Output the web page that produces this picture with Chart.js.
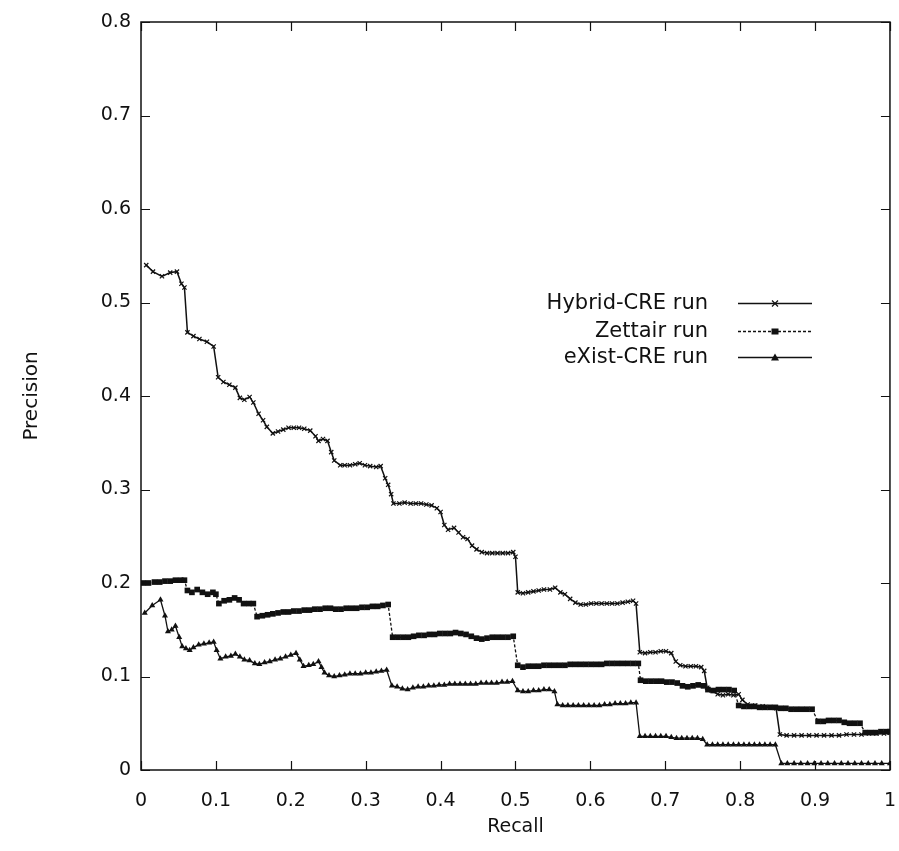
<!DOCTYPE html>
<html>
<head>
<meta charset="utf-8">
<script src="https://cdn.jsdelivr.net/npm/chart.js@4.4.1/dist/chart.umd.min.js"></script>
<style>
html,body{margin:0;padding:0;background:#fff;}
#c{display:block;}
</style>
</head>
<body>
<canvas id="c" width="899" height="851"></canvas>
<script>
// ---- data ----
const seriesNames = ['Hybrid-CRE run', 'Zettair run', 'eXist-CRE run'];
const xTickLabels = ['0','0.1','0.2','0.3','0.4','0.5','0.6','0.7','0.8','0.9','1'];
const yTickLabels = ['0','0.1','0.2','0.3','0.4','0.5','0.6','0.7','0.8'];

const hybridRecall = [0.007,0.016,0.028,0.039,0.048,0.054,0.058,0.062,0.070,0.078,0.088,0.097,0.103,0.110,0.118,0.126,0.132,0.138,0.145,0.150,0.157,0.163,0.168,0.176,0.183,0.190,0.197,0.204,0.211,0.218,0.226,0.233,0.237,0.243,0.249,0.254,0.258,0.266,0.272,0.279,0.286,0.292,0.299,0.306,0.314,0.320,0.326,0.330,0.334,0.337,0.345,0.352,0.360,0.367,0.374,0.381,0.388,0.395,0.400,0.405,0.410,0.418,0.424,0.430,0.436,0.442,0.448,0.455,0.462,0.469,0.476,0.483,0.490,0.497,0.500,0.503,0.510,0.517,0.524,0.531,0.538,0.546,0.553,0.560,0.566,0.573,0.580,0.587,0.594,0.601,0.608,0.615,0.622,0.629,0.636,0.643,0.650,0.657,0.661,0.666,0.673,0.680,0.687,0.694,0.701,0.708,0.714,0.720,0.727,0.734,0.741,0.748,0.752,0.756,0.762,0.770,0.777,0.784,0.791,0.798,0.803,0.810,0.820,0.830,0.840,0.848,0.853,0.862,0.872,0.882,0.892,0.902,0.912,0.922,0.932,0.942,0.952,0.962,0.972,0.982,0.992,1.000];
const hybridPrecision = [0.540,0.533,0.528,0.532,0.533,0.520,0.516,0.468,0.464,0.461,0.458,0.453,0.420,0.415,0.412,0.409,0.398,0.396,0.399,0.393,0.381,0.374,0.367,0.360,0.362,0.364,0.366,0.366,0.366,0.365,0.363,0.357,0.352,0.354,0.352,0.340,0.331,0.326,0.326,0.326,0.327,0.328,0.326,0.325,0.324,0.325,0.312,0.305,0.295,0.285,0.285,0.286,0.285,0.285,0.285,0.284,0.283,0.280,0.276,0.262,0.257,0.259,0.254,0.249,0.247,0.240,0.236,0.233,0.232,0.232,0.232,0.232,0.232,0.233,0.228,0.190,0.189,0.190,0.191,0.192,0.193,0.193,0.195,0.190,0.188,0.183,0.179,0.177,0.177,0.178,0.178,0.178,0.178,0.178,0.178,0.179,0.180,0.181,0.178,0.126,0.125,0.126,0.126,0.127,0.127,0.125,0.116,0.112,0.111,0.111,0.111,0.110,0.106,0.088,0.085,0.081,0.080,0.081,0.080,0.081,0.075,0.070,0.069,0.068,0.067,0.066,0.038,0.037,0.037,0.037,0.037,0.037,0.037,0.037,0.037,0.038,0.038,0.038,0.039,0.039,0.039,0.040];

const zettairRecall = [0.003,0.010,0.018,0.025,0.032,0.039,0.046,0.053,0.058,0.062,0.068,0.075,0.082,0.089,0.096,0.100,0.104,0.111,0.118,0.125,0.131,0.137,0.144,0.150,0.155,0.162,0.169,0.176,0.183,0.190,0.197,0.204,0.211,0.218,0.225,0.232,0.239,0.246,0.253,0.260,0.267,0.274,0.281,0.288,0.295,0.302,0.309,0.316,0.323,0.330,0.336,0.343,0.350,0.357,0.364,0.371,0.378,0.385,0.392,0.399,0.406,0.413,0.420,0.427,0.434,0.441,0.448,0.455,0.462,0.469,0.476,0.483,0.490,0.497,0.503,0.510,0.517,0.524,0.531,0.538,0.545,0.552,0.559,0.566,0.573,0.580,0.587,0.594,0.601,0.608,0.615,0.622,0.629,0.636,0.643,0.650,0.657,0.664,0.667,0.674,0.681,0.688,0.695,0.702,0.709,0.716,0.723,0.730,0.737,0.744,0.751,0.757,0.764,0.771,0.778,0.785,0.792,0.798,0.805,0.812,0.819,0.826,0.833,0.840,0.847,0.854,0.861,0.868,0.875,0.882,0.889,0.896,0.904,0.911,0.918,0.925,0.932,0.939,0.946,0.953,0.960,0.967,0.974,0.981,0.988,0.995,1.000];
const zettairPrecision = [0.200,0.200,0.201,0.201,0.202,0.202,0.203,0.203,0.203,0.192,0.190,0.193,0.190,0.188,0.190,0.188,0.178,0.181,0.182,0.184,0.182,0.178,0.178,0.178,0.164,0.165,0.166,0.167,0.168,0.169,0.169,0.170,0.170,0.171,0.171,0.172,0.172,0.173,0.173,0.172,0.172,0.173,0.173,0.173,0.174,0.174,0.175,0.175,0.176,0.177,0.142,0.142,0.142,0.142,0.143,0.144,0.144,0.145,0.145,0.146,0.146,0.146,0.147,0.146,0.145,0.143,0.141,0.140,0.141,0.142,0.142,0.142,0.142,0.143,0.112,0.110,0.111,0.111,0.111,0.112,0.112,0.112,0.112,0.112,0.113,0.113,0.113,0.113,0.113,0.113,0.113,0.114,0.114,0.114,0.114,0.114,0.114,0.114,0.096,0.095,0.095,0.095,0.095,0.094,0.094,0.093,0.090,0.089,0.090,0.091,0.090,0.086,0.085,0.086,0.086,0.086,0.085,0.069,0.068,0.068,0.068,0.067,0.067,0.067,0.067,0.066,0.066,0.065,0.065,0.065,0.065,0.065,0.052,0.052,0.053,0.053,0.053,0.051,0.050,0.050,0.050,0.040,0.040,0.040,0.041,0.041,0.041];

const existRecall = [0.005,0.015,0.026,0.032,0.036,0.041,0.046,0.051,0.055,0.060,0.065,0.070,0.077,0.084,0.091,0.097,0.101,0.106,0.113,0.120,0.126,0.132,0.138,0.145,0.152,0.158,0.165,0.172,0.179,0.186,0.193,0.200,0.207,0.212,0.217,0.224,0.230,0.237,0.241,0.245,0.251,0.258,0.265,0.272,0.279,0.286,0.293,0.300,0.307,0.314,0.321,0.328,0.335,0.342,0.349,0.356,0.363,0.370,0.377,0.384,0.391,0.398,0.405,0.412,0.419,0.426,0.433,0.440,0.447,0.454,0.461,0.468,0.475,0.482,0.489,0.496,0.503,0.510,0.517,0.524,0.531,0.538,0.545,0.552,0.556,0.563,0.570,0.577,0.584,0.591,0.598,0.605,0.612,0.619,0.626,0.633,0.640,0.647,0.654,0.661,0.666,0.673,0.680,0.687,0.694,0.701,0.708,0.715,0.722,0.729,0.736,0.743,0.750,0.756,0.763,0.770,0.777,0.784,0.791,0.798,0.805,0.812,0.819,0.826,0.833,0.840,0.847,0.855,0.863,0.872,0.881,0.890,0.899,0.908,0.917,0.926,0.935,0.944,0.953,0.962,0.971,0.980,0.989,1.000];
const existPrecision = [0.168,0.176,0.182,0.165,0.148,0.150,0.154,0.142,0.132,0.130,0.128,0.131,0.134,0.135,0.136,0.137,0.128,0.119,0.121,0.122,0.124,0.121,0.118,0.117,0.114,0.113,0.115,0.116,0.118,0.119,0.121,0.123,0.125,0.118,0.111,0.112,0.113,0.116,0.110,0.104,0.101,0.100,0.101,0.102,0.103,0.103,0.103,0.104,0.104,0.105,0.106,0.107,0.090,0.089,0.087,0.086,0.088,0.089,0.089,0.090,0.090,0.091,0.091,0.092,0.092,0.092,0.092,0.092,0.092,0.093,0.093,0.093,0.093,0.094,0.094,0.095,0.085,0.084,0.084,0.085,0.085,0.086,0.086,0.084,0.070,0.069,0.069,0.069,0.069,0.069,0.069,0.069,0.069,0.070,0.070,0.071,0.071,0.071,0.072,0.072,0.036,0.036,0.036,0.036,0.036,0.036,0.035,0.034,0.034,0.034,0.034,0.034,0.033,0.027,0.027,0.027,0.027,0.027,0.027,0.027,0.027,0.027,0.027,0.027,0.027,0.027,0.027,0.007,0.007,0.007,0.007,0.007,0.007,0.007,0.007,0.007,0.007,0.007,0.007,0.007,0.007,0.007,0.007,0.007];

function pts(xs, ys){ return xs.map((x,i)=>({x:x, y:ys[i]})); }

const FONT = "'DejaVu Sans', 'Liberation Sans', sans-serif";
const INK = '#111';

const frameTicks = {
  id: 'frameTicks',
  afterDatasetsDraw(chart){
    const {ctx, chartArea:a, scales:{x, y}} = chart;
    ctx.save();
    ctx.strokeStyle = INK;
    ctx.lineWidth = 1.5;
    ctx.strokeRect(a.left, a.top, a.right - a.left, a.bottom - a.top);
    const L = 9;
    ctx.beginPath();
    x.ticks.forEach(t => {
      const px = Math.round(x.getPixelForValue(t.value)) + 0.5;
      ctx.moveTo(px, a.bottom); ctx.lineTo(px, a.bottom - L);
      ctx.moveTo(px, a.top); ctx.lineTo(px, a.top + L);
    });
    y.ticks.forEach(t => {
      const py = Math.round(y.getPixelForValue(t.value)) + 0.5;
      ctx.moveTo(a.left, py); ctx.lineTo(a.left + L, py);
      ctx.moveTo(a.right, py); ctx.lineTo(a.right - L, py);
    });
    ctx.lineWidth = 1.2;
    ctx.stroke();
    ctx.restore();
  }
};

function marker(ctx, style, x, y){
  ctx.beginPath();
  if (style === 'crossRot'){
    const r = 3;
    ctx.moveTo(x-r,y-r); ctx.lineTo(x+r,y+r);
    ctx.moveTo(x-r,y+r); ctx.lineTo(x+r,y-r);
    ctx.stroke();
  } else if (style === 'rect'){
    ctx.fillRect(x-3.5,y-3,7,6);
  } else if (style === 'triangle'){
    ctx.moveTo(x, y-4); ctx.lineTo(x+4, y+3); ctx.lineTo(x-4, y+3); ctx.closePath();
    ctx.fill();
  }
}

const customLegend = {
  id: 'customLegend',
  afterDraw(chart){
    const {ctx} = chart;
    const rows = [303, 331, 357];
    const textRight = 708, l0 = 738, l1 = 812;
    ctx.save();
    ctx.font = '21px ' + FONT;
    ctx.textAlign = 'right';
    ctx.textBaseline = 'middle';
    chart.data.datasets.forEach((ds, i) => {
      const yy = rows[i];
      ctx.fillStyle = INK;
      ctx.fillText(ds.label, textRight, yy + 1);
      ctx.strokeStyle = INK;
      ctx.lineWidth = ds.borderWidth;
      ctx.setLineDash(ds.borderDash || []);
      ctx.beginPath(); ctx.moveTo(l0, yy + 0.5); ctx.lineTo(l1, yy + 0.5); ctx.stroke();
      ctx.setLineDash([]);
      ctx.lineWidth = 1.2;
      marker(ctx, ds.pointStyle, (l0 + l1) / 2, yy + 0.5);
    });
    ctx.restore();
  }
};

new Chart(document.getElementById('c'), {
  type: 'line',
  data: {
    datasets: [
      { label: seriesNames[0], data: pts(hybridRecall, hybridPrecision), borderColor: INK, backgroundColor: INK,
        borderWidth: 1.5, pointStyle: 'crossRot', pointRadius: 3, pointBorderWidth: 1.2, pointBorderColor: INK, tension: 0 },
      { label: seriesNames[1], data: pts(zettairRecall, zettairPrecision), borderColor: INK, backgroundColor: INK,
        borderWidth: 1.3, borderDash: [3, 2], pointStyle: 'rect', pointRadius: 4, pointBorderWidth: 0, pointBackgroundColor: INK, tension: 0 },
      { label: seriesNames[2], data: pts(existRecall, existPrecision), borderColor: INK, backgroundColor: INK,
        borderWidth: 1.3, pointStyle: 'triangle', pointRadius: 3.5, pointBorderWidth: 0, pointBackgroundColor: INK, tension: 0 }
    ]
  },
  options: {
    responsive: false,
    animation: false,
    devicePixelRatio: 1,
    layout: { padding: { top: 22, right: 9, left: 0, bottom: 0 } },
    plugins: { legend: { display: false }, tooltip: { enabled: false } },
    scales: {
      x: {
        type: 'linear', min: 0, max: 1,
        grid: { display: true, drawOnChartArea: false, drawTicks: true, tickLength: 17, color: 'rgba(0,0,0,0)' },
        border: { display: false },
        ticks: { stepSize: 0.1, padding: 3, color: INK, font: { family: FONT, size: 19 },
          callback: (v, i) => xTickLabels[i] },
        title: { display: true, text: 'Recall', color: INK, font: { family: FONT, size: 19 }, padding: { top: 0, bottom: 13 } },
        afterFit(s){ s.height = 81; }
      },
      y: {
        type: 'linear', min: 0, max: 0.8,
        grid: { display: false, drawTicks: false },
        border: { display: false },
        ticks: { stepSize: 0.1, padding: 10, color: INK, font: { family: FONT, size: 19 },
          callback: (v, i) => yTickLabels[i] },
        title: { display: true, text: 'Precision', color: INK, font: { family: FONT, size: 20 }, padding: { top: 20, bottom: 0 } },
        afterFit(s){ s.width = 141; }
      }
    }
  },
  plugins: [frameTicks, customLegend]
});
</script>
</body>
</html>
